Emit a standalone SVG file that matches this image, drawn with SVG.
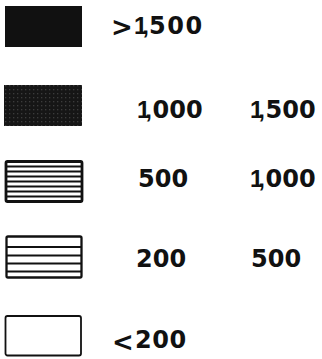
<svg xmlns="http://www.w3.org/2000/svg" width="322" height="359" viewBox="0 0 322 359">
<style>
.lbl{font-family:"DejaVu Sans","Liberation Sans",sans-serif;font-weight:bold;font-size:24px;fill:#111}
.one{font-family:"Liberation Sans","DejaVu Sans",sans-serif;font-weight:bold;letter-spacing:-5px}
.sym{font-family:"DejaVu Sans","Liberation Sans",sans-serif;font-weight:bold;font-size:26px;fill:#111}
.box{stroke:#111;fill:#fff}
.hl{stroke:#111;fill:none}
</style>
<defs>
<pattern id="screen" width="4" height="4" patternUnits="userSpaceOnUse">
<rect width="4" height="4" fill="#161616"/>
<rect x="1" y="1" width="1.3" height="1.3" fill="#3c3c3c"/>
</pattern>
</defs>
<rect width="322" height="359" fill="#fff"/>
<g id="item-gt1500">
<rect x="5" y="6" width="77" height="41" fill="#111"/>
<text class="sym" x="111" y="36">&gt;</text>
<text class="lbl" y="34"><tspan class="one" x="134">1,</tspan><tspan x="149" letter-spacing="1.5">500</tspan></text>
</g>
<g id="item-1000-1500">
<rect x="4" y="85" width="78" height="41" fill="url(#screen)"/>
<text class="lbl" y="118"><tspan class="one" x="137">1,</tspan><tspan x="152.5">000</tspan></text>
<text class="lbl" y="118"><tspan class="one" x="250">1,</tspan><tspan x="265.5">500</tspan></text>
</g>
<g id="item-500-1000">
<rect class="box" x="6" y="161.5" width="76" height="40" stroke-width="2.8" rx="1.5"/>
<path class="hl" stroke-width="2.2" d="M6 166.5H82M6 171.5H82M6 176.5H82M6 181.5H82M6 186.5H82M6 191.5H82M6 196.5H82"/>
<text class="lbl" x="138" y="187">500</text>
<text class="lbl" y="187"><tspan class="one" x="250">1,</tspan><tspan x="265.5">000</tspan></text>
</g>
<g id="item-200-500">
<rect class="box" x="6.5" y="236.5" width="75" height="41" stroke-width="2.3" rx="1.5"/>
<path class="hl" stroke-width="2" d="M6.5 247H81.5M6.5 255.5H81.5M6.5 263.5H81.5M6.5 271.5H81.5"/>
<text class="lbl" x="136" y="267">200</text>
<text class="lbl" x="251" y="267">500</text>
</g>
<g id="item-lt200">
<rect class="box" x="5.5" y="316" width="75.5" height="39.5" stroke-width="1.8" rx="2"/>
<text class="sym" x="112" y="351">&lt;</text>
<text class="lbl" x="135" y="348" letter-spacing="0.5">200</text>
</g>
</svg>
